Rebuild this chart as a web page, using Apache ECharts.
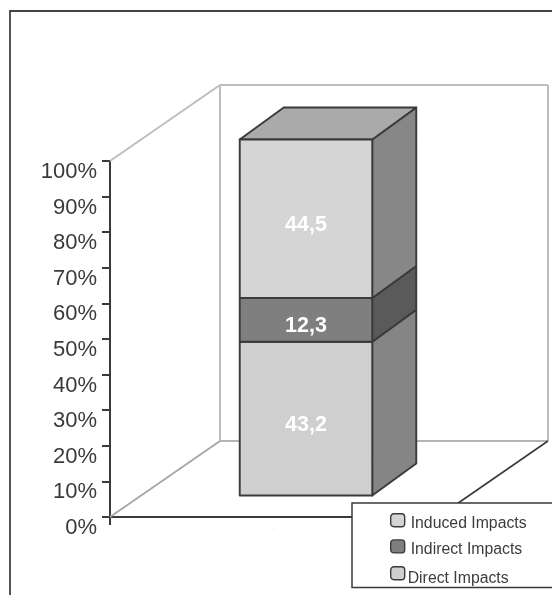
<!DOCTYPE html>
<html>
<head>
<meta charset="utf-8">
<style>html,body{margin:0;padding:0;background:#fff}#c{width:552px;height:595px}</style>
<script src="https://cdn.jsdelivr.net/npm/echarts@6/dist/echarts.min.js"></script>
</head>
<body>
<div id="c"></div>
<script>
const categories = ['.'];
const directImpacts = [43.2];
const indirectImpacts = [12.3];
const inducedImpacts = [44.5];
const valueLabels = [['43,2'], ['12,3'], ['44,5']];
const legendUpper = ['Induced Impacts', 'Indirect Impacts'];
const legendLower = ['Direct Impacts'];

const LINE = '#3a3a3a';
const WALL = '#bdbdbd';
const WALL_D = 110, WALL_H = 76;
const BAR_W = 132.5, BAR_DX = 44, BAR_DY = 32, BAR_SHIFT_X = 32, BAR_SHIFT_Y = 21.5;

function segment(front, side, top, labelTexts, showTop) {
  return function (params, api) {
    const c = api.coord([api.value(0), api.value(1)]);
    const d = api.coord([api.value(0), api.value(2)]);
    const xl = c[0] + BAR_SHIFT_X - BAR_W / 2, xr = xl + BAR_W;
    const yb = c[1] - BAR_SHIFT_Y, yt = d[1] - BAR_SHIFT_Y;
    const style = { stroke: LINE, lineWidth: 1.9, lineJoin: 'round' };
    const kids = [];
    kids.push({ type: 'polygon', shape: { points: [[xr, yb], [xr + BAR_DX, yb - BAR_DY], [xr + BAR_DX, yt - BAR_DY], [xr, yt]] },
      style: Object.assign({ fill: side }, style) });
    if (showTop) {
      kids.push({ type: 'polygon', shape: { points: [[xl, yt], [xr, yt], [xr + BAR_DX, yt - BAR_DY], [xl + BAR_DX, yt - BAR_DY]] },
        style: Object.assign({ fill: top }, style) });
    }
    kids.push({ type: 'rect', shape: { x: xl, y: yt, width: BAR_W, height: yb - yt },
      style: Object.assign({ fill: front }, style) });
    kids.push({ type: 'text', style: {
      text: labelTexts[params.dataIndex], x: (xl + xr) / 2, y: (yt + yb) / 2 + 6.5,
      align: 'center', verticalAlign: 'middle', fill: '#ffffff',
      font: 'bold 21.5px "Liberation Sans", Arial, sans-serif' } });
    return { type: 'group', children: kids };
  };
}

function walls(params) {
  const s = params.coordSys;
  const x0 = s.x, y0 = s.y + s.height, yTop = s.y, xR = s.x + s.width;
  const line = (a, b, c, d, col, w) => ({ type: 'line', shape: { x1: a, y1: b, x2: c, y2: d }, style: { stroke: col, lineWidth: w || 2 } });
  const bx = x0 + WALL_D, byB = y0 - WALL_H, byT = yTop - WALL_H, bxR = xR + WALL_D;
  return { type: 'group', children: [
    line(x0, yTop, bx, byT, WALL),
    line(x0, y0, bx, byB, '#a8a8a8'),
    line(bx, byT, bxR, byT, WALL),
    line(bx, byT, bx, byB, WALL),
    line(bxR, byT, bxR, byB, WALL),
    line(bx, byB, bxR, byB, '#b4b4b4'),
    line(xR, y0, bxR, byB, LINE, 1.6)
  ] };
}

function stacked(vals, bases) {
  return vals.map((v, i) => [i, bases[i], bases[i] + v]);
}
const base2 = directImpacts.map((v, i) => v + indirectImpacts[i]);

const font = '"Liberation Sans", Arial, sans-serif';
const legendText = { color: '#3c3c3c', fontSize: 15.8, fontFamily: font };
const chart = echarts.init(document.getElementById('c'), null, { renderer: 'canvas' });
chart.setOption({
  animation: false,
  backgroundColor: '#fff',
  grid: { left: 110, top: 161, width: 328, height: 356, containLabel: false },
  xAxis: {
    type: 'category', data: categories,
    axisLine: { show: true, lineStyle: { color: LINE, width: 2 } },
    axisTick: { show: true, length: 8, lineStyle: { color: LINE, width: 2 } },
    axisLabel: { color: '#888', fontSize: 6, margin: 8, fontFamily: font },
    splitLine: { show: false }
  },
  yAxis: {
    type: 'value', min: 0, max: 100, interval: 10,
    axisLine: { show: true, lineStyle: { color: LINE, width: 2 } },
    axisTick: { show: true, length: 8, lineStyle: { color: LINE, width: 2 } },
    axisLabel: { formatter: '{value}%', color: '#3a3a3a', fontSize: 22, fontFamily: font, margin: 13, verticalAlign: 'top' },
    splitLine: { show: false }
  },
  legend: [{
    orient: 'vertical', left: 352, top: 503,
    data: legendUpper,
    formatter: '{t|{name}}',
    icon: 'roundRect',
    itemWidth: 14, itemHeight: 13, itemGap: 8,
    padding: [10, 70, 30, 38],
    backgroundColor: '#fff', borderColor: LINE, borderWidth: 1.5,
    itemStyle: { borderColor: LINE, borderWidth: 1.4 },
    textStyle: { rich: { t: Object.assign({ padding: [6, 0, 0, 1] }, legendText) } }
  }, {
    orient: 'vertical', left: 390, top: 566,
    data: legendLower,
    formatter: '{t|{name}}',
    icon: 'roundRect',
    itemWidth: 14, itemHeight: 13,
    padding: 0,
    itemStyle: { borderColor: LINE, borderWidth: 1.4 },
    textStyle: { rich: { t: Object.assign({ padding: [11, 0, 0, -2] }, legendText) } }
  }],
  series: [
    { type: 'custom', name: 'walls', z: 1, silent: true, renderItem: walls, data: [[0]], encode: { x: 0 } },
    { type: 'custom', name: 'Direct Impacts', z: 3, itemStyle: { color: '#cfcfcf' },
      renderItem: segment('#cfcfcf', '#858585', '#aaaaaa', valueLabels[0], false),
      data: stacked(directImpacts, [0]), encode: { x: 0, y: [1, 2] } },
    { type: 'custom', name: 'Indirect Impacts', z: 4, itemStyle: { color: '#7f7f7f' },
      renderItem: segment('#7f7f7f', '#5a5a5a', '#aaaaaa', valueLabels[1], false),
      data: stacked(indirectImpacts, directImpacts), encode: { x: 0, y: [1, 2] } },
    { type: 'custom', name: 'Induced Impacts', z: 5, itemStyle: { color: '#d5d5d5' },
      renderItem: segment('#d5d5d5', '#878787', '#aaaaaa', valueLabels[2], true),
      data: stacked(inducedImpacts, base2), encode: { x: 0, y: [1, 2] } }
  ],
  graphic: [{
    type: 'polyline', silent: true, z: 10,
    shape: { points: [[10, 595], [10, 11], [552, 11]] },
    style: { stroke: '#444', lineWidth: 1.8, fill: 'none' }
  }]
});
</script>
</body>
</html>
